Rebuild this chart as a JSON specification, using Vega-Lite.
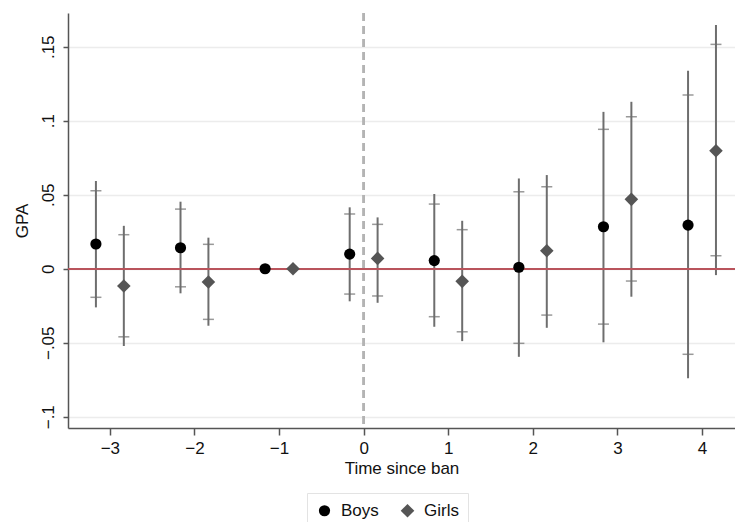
{
  "$schema": "https://vega.github.io/schema/vega-lite/v6.json",
  "width": 667,
  "height": 415,
  "autosize": {"type": "none"},
  "padding": {"left": 68, "top": 13, "right": 0, "bottom": 94},
  "background": "white",
  "config": {
    "view": {"stroke": null},
    "font": "Liberation Sans",
    "axis": {
      "labelFont": "Liberation Sans",
      "titleFont": "Liberation Sans",
      "labelFontSize": 17,
      "titleFontSize": 17,
      "titleFontWeight": "normal",
      "labelColor": "#111111",
      "titleColor": "#111111",
      "domainColor": "#555555",
      "domainWidth": 1.5,
      "tickColor": "#555555",
      "tickWidth": 1.5
    }
  },
  "data": {
    "values": [
      {"group": "Boys", "time": -3.165, "est": 0.0167, "lo95": -0.0261, "hi95": 0.0593, "lo90": -0.0193, "hi90": 0.0527},
      {"group": "Boys", "time": -2.165, "est": 0.0142, "lo95": -0.0166, "hi95": 0.0453, "lo90": -0.0122, "hi90": 0.0403},
      {"group": "Boys", "time": -1.165, "est": 0, "lo95": null, "hi95": null, "lo90": null, "hi90": null},
      {"group": "Boys", "time": -0.165, "est": 0.0099, "lo95": -0.022, "hi95": 0.0415, "lo90": -0.0171, "hi90": 0.037},
      {"group": "Boys", "time": 0.835, "est": 0.0055, "lo95": -0.0392, "hi95": 0.0505, "lo90": -0.0324, "hi90": 0.0437},
      {"group": "Boys", "time": 1.835, "est": 0.001, "lo95": -0.0595, "hi95": 0.061, "lo90": -0.0504, "hi90": 0.052},
      {"group": "Boys", "time": 2.835, "est": 0.0284, "lo95": -0.0497, "hi95": 0.106, "lo90": -0.0374, "hi90": 0.0942},
      {"group": "Boys", "time": 3.835, "est": 0.0295, "lo95": -0.074, "hi95": 0.1338, "lo90": -0.0578, "hi90": 0.1174},
      {"group": "Girls", "time": -2.835, "est": -0.0117, "lo95": -0.0522, "hi95": 0.029, "lo90": -0.046, "hi90": 0.023},
      {"group": "Girls", "time": -1.835, "est": -0.009, "lo95": -0.0385, "hi95": 0.021, "lo90": -0.0342, "hi90": 0.0165},
      {"group": "Girls", "time": -0.835, "est": 0, "lo95": null, "hi95": null, "lo90": null, "hi90": null},
      {"group": "Girls", "time": 0.165, "est": 0.007, "lo95": -0.023, "hi95": 0.0347, "lo90": -0.0184, "hi90": 0.03},
      {"group": "Girls", "time": 1.165, "est": -0.0085, "lo95": -0.0489, "hi95": 0.0324, "lo90": -0.0426, "hi90": 0.0264},
      {"group": "Girls", "time": 2.165, "est": 0.0122, "lo95": -0.0399, "hi95": 0.0633, "lo90": -0.0313, "hi90": 0.0554},
      {"group": "Girls", "time": 3.165, "est": 0.0469, "lo95": -0.0189, "hi95": 0.1128, "lo90": -0.0083, "hi90": 0.1027},
      {"group": "Girls", "time": 4.165, "est": 0.0797, "lo95": -0.0043, "hi95": 0.1647, "lo90": 0.0088, "hi90": 0.1516}
    ]
  },
  "encoding": {
    "x": {
      "field": "time",
      "type": "quantitative",
      "scale": {"domain": [-3.495, 4.39], "nice": false, "zero": false},
      "axis": {
        "values": [-3, -2, -1, 0, 1, 2, 3, 4],
        "grid": false,
        "tickSize": 7,
        "labelPadding": 5,
        "title": "Time since ban",
        "titlePadding": 4
      }
    }
  },
  "layer": [
    {
      "mark": {"type": "rule", "color": "#b4b4b4", "strokeWidth": 1.5, "strokeDash": [8, 5]},
      "encoding": {"x": {"datum": 0}, "y": null}
    },
    {
      "mark": {"type": "rule", "strokeWidth": 2},
      "encoding": {
        "x": {"field": "time", "type": "quantitative"},
        "y": {
          "field": "lo95",
          "type": "quantitative",
          "scale": {"domain": [-0.1076, 0.1728], "nice": false, "zero": false},
          "axis": {
            "values": [-0.1, -0.05, 0, 0.05, 0.1, 0.15],
            "labelExpr": "replace(format(datum.value, '.2~f'), '0.', '.')",
            "labelAngle": 270,
            "labelAlign": "center",
            "labelBaseline": "bottom",
            "tickSize": 5,
            "labelPadding": 6,
            "grid": true,
            "gridColor": "#ececec",
            "gridWidth": 1.5,
            "title": "GPA",
            "titlePadding": 8
          }
        },
        "y2": {"field": "hi95"},
        "color": {"value": "#6e6e6e"}
      }
    },
    {
      "mark": {"type": "tick", "orient": "horizontal", "size": 11, "thickness": 1.5, "color": "#6e6e6e"},
      "encoding": {"y": {"field": "lo90", "type": "quantitative"}}
    },
    {
      "mark": {"type": "tick", "orient": "horizontal", "size": 11, "thickness": 1.5, "color": "#6e6e6e"},
      "encoding": {"y": {"field": "hi90", "type": "quantitative"}}
    },
    {
      "mark": {"type": "rule", "color": "#b9545c", "strokeWidth": 1.6},
      "encoding": {"y": {"datum": 0}, "x": null}
    },
    {
      "mark": {"type": "point", "filled": true, "opacity": 1},
      "encoding": {
        "y": {"field": "est", "type": "quantitative"},
        "color": {
          "field": "group",
          "type": "nominal",
          "scale": {"domain": ["Boys", "Girls"], "range": ["#000000", "#555555"]},
          "legend": {
            "title": null,
            "orient": "none",
            "legendX": 239,
            "legendY": 480,
            "direction": "horizontal",
            "labelFontSize": 17,
            "labelFont": "Liberation Sans",
            "labelColor": "#111111",
            "symbolSize": 120,
            "symbolStrokeWidth": 0,
            "columnPadding": 20,
            "labelOffset": 8,
            "padding": 9,
            "strokeColor": "#e3e3e3",
            "fillColor": "white"
          }
        },
        "shape": {
          "field": "group",
          "type": "nominal",
          "scale": {"domain": ["Boys", "Girls"], "range": ["circle", "diamond"]}
        },
        "size": {
          "field": "group",
          "type": "nominal",
          "scale": {"domain": ["Boys", "Girls"], "range": [125, 185]},
          "legend": null
        }
      }
    }
  ]
}
